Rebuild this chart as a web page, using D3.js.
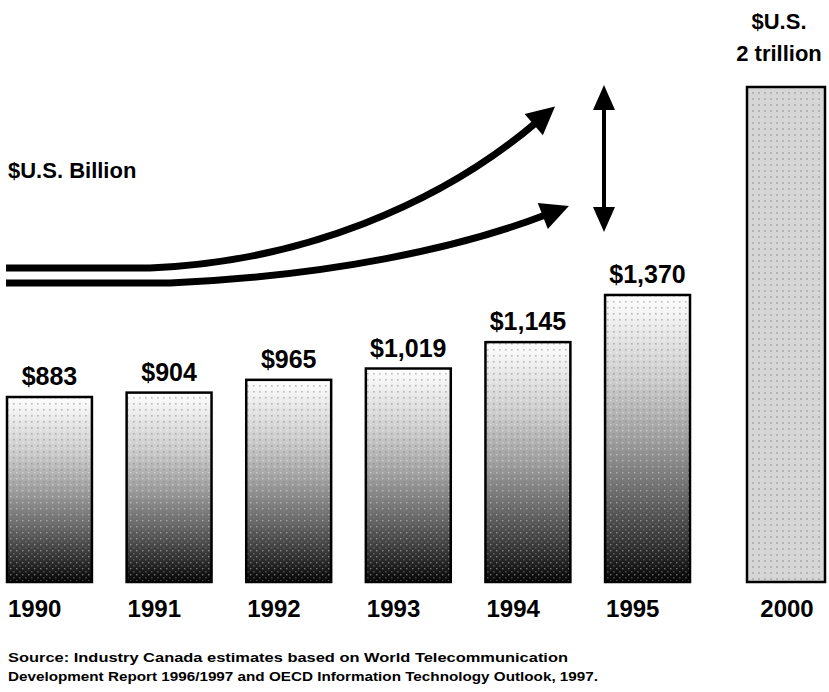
<!DOCTYPE html>
<html>
<head>
<meta charset="utf-8">
<script src="https://cdn.jsdelivr.net/npm/d3@7/dist/d3.min.js"></script>
<style>
  html, body { margin: 0; padding: 0; background: #fff; }
  svg { display: block; font-family: "Liberation Sans", Arial, Helvetica, sans-serif; font-weight: bold; }
</style>
</head>
<body>
<svg id="chart" width="829" height="692"></svg>
<script>
// ---- data ----
const years = ["1990", "1991", "1992", "1993", "1994", "1995"];
const values = [883, 904, 965, 1019, 1145, 1370];
const projYear = ["2000"];
const projValue = [2000];
const unitLabel = "$U.S. Billion";
const projLabel = ["$U.S.", "2 trillion"];
const sourceLines = [
  "Source: Industry Canada estimates based on World Telecommunication",
  "Development Report 1996/1997 and OECD Information Technology Outlook, 1997."
];

const svg = d3.select("#chart");
const baseY = 582;

// scales
const x = d3.scaleBand().domain(years).range([7, 690]).paddingInner(0.29).paddingOuter(0);
const y = d3.scaleLinear().domain([0, 2000]).range([baseY, baseY - 419]);
const xp = d3.scaleBand().domain(projYear).range([747, 827]).padding(0);
const yp = d3.scaleLinear().domain([0, 2000]).range([baseY, 87]);

// defs
const defs = svg.append("defs");
const grad = defs.append("linearGradient").attr("id", "barGrad")
  .attr("x1", 0).attr("y1", 0).attr("x2", 0).attr("y2", 1);
[[0, "#ffffff"], [0.15, "#e4e4e4"], [0.3, "#cccccc"], [0.5, "#a0a0a0"],
 [0.7, "#686868"], [0.88, "#303030"], [1, "#050505"]]
  .forEach(([o, c]) => grad.append("stop").attr("offset", o).attr("stop-color", c));

const dots = defs.append("pattern").attr("id", "dots")
  .attr("width", 6).attr("height", 6).attr("patternUnits", "userSpaceOnUse");
dots.append("rect").attr("x", 1).attr("y", 1).attr("width", 1.6).attr("height", 1.6)
  .attr("fill", "#808080").attr("opacity", 0.5);
dots.append("rect").attr("x", 4).attr("y", 4).attr("width", 1.4).attr("height", 1.4)
  .attr("fill", "#ffffff").attr("opacity", 0.4);

const dots2 = defs.append("pattern").attr("id", "dots2")
  .attr("width", 6).attr("height", 6).attr("patternUnits", "userSpaceOnUse");
dots2.append("rect").attr("width", 6).attr("height", 6).attr("fill", "#d6d6d6");
dots2.append("rect").attr("x", 2).attr("y", 2).attr("width", 2).attr("height", 2).attr("fill", "#b4b4b4");

const arrowHead = defs.append("marker").attr("id", "head")
  .attr("viewBox", "0 0 10 10").attr("refX", 2).attr("refY", 5)
  .attr("markerWidth", 4.4).attr("markerHeight", 4.0)
  .attr("markerUnits", "strokeWidth").attr("orient", "auto");
arrowHead.append("path").attr("d", "M0,0 L10,5 L0,10 Z").attr("fill", "#000");

// bars
const bars = svg.append("g");
years.forEach((yr, i) => {
  const bx = x(yr), bw = x.bandwidth(), top = y(values[i]);
  bars.append("rect").attr("x", bx).attr("y", top).attr("width", bw).attr("height", baseY - top)
    .attr("fill", "url(#barGrad)");
  bars.append("rect").attr("x", bx).attr("y", top).attr("width", bw).attr("height", baseY - top)
    .attr("fill", "url(#dots)").attr("stroke", "#000").attr("stroke-width", 2.5);
  svg.append("text").attr("x", bx + bw / 2).attr("y", top - 12)
    .attr("text-anchor", "middle").attr("font-size", 25).attr("fill", "#000")
    .text("$" + d3.format(",")(values[i]));
  svg.append("text").attr("x", bx + 1).attr("y", 617)
    .attr("font-size", 24).attr("fill", "#000").text(yr);
});

// projection bar
projYear.forEach((yr, i) => {
  const bx = xp(yr), bw = xp.bandwidth(), top = yp(projValue[i]);
  svg.append("rect").attr("x", bx).attr("y", top).attr("width", bw - 2).attr("height", baseY - top)
    .attr("fill", "url(#dots2)").attr("stroke", "#000").attr("stroke-width", 2.5);
  svg.append("text").attr("x", bx + bw / 2).attr("y", 617)
    .attr("text-anchor", "middle").attr("font-size", 24).attr("fill", "#000").text(yr);
  const t = svg.append("text").attr("text-anchor", "middle").attr("font-size", 22).attr("fill", "#000");
  projLabel.forEach((s, k) => t.append("tspan").attr("x", 779).attr("y", 29 + k * 32).text(s));
});

// unit label
svg.append("text").attr("x", 8).attr("y", 178).attr("font-size", 22).attr("fill", "#000").text(unitLabel);

// growth arrows (decorative)
const arrows = svg.append("g").attr("fill", "none").attr("stroke", "#000").attr("stroke-width", 7);
arrows.append("path")
  .attr("d", "M6,268 L150,268 C 300,262 440,205 538,121")
  .attr("marker-end", "url(#head)");
arrows.append("path")
  .attr("d", "M6,283 L170,283 C 330,276 460,248 548,214")
  .attr("marker-end", "url(#head)");

// vertical double arrow
const va = svg.append("g");
va.append("line").attr("x1", 604).attr("x2", 604).attr("y1", 105).attr("y2", 212)
  .attr("stroke", "#000").attr("stroke-width", 4);
va.append("path").attr("d", "M604,85 L593,110 L615,110 Z").attr("fill", "#000");
va.append("path").attr("d", "M604,232 L593,207 L615,207 Z").attr("fill", "#000");

// source
sourceLines.forEach((s, k) => {
  svg.append("text").attr("x", 8).attr("y", 662 + k * 19).attr("font-size", 13.5)
    .attr("fill", "#000").attr("textLength", k === 0 ? 560 : 590).attr("lengthAdjust", "spacingAndGlyphs")
    .text(s);
});
</script>
</body>
</html>
